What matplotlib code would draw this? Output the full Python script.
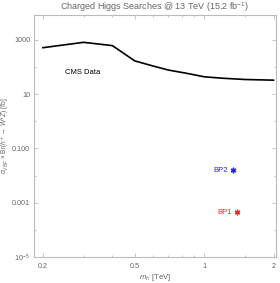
import numpy as np
import matplotlib.pyplot as plt
from matplotlib.ticker import FixedLocator, NullFormatter

plt.rcParams['font.family'] = ['Liberation Sans', 'DejaVu Sans']
plt.rcParams['mathtext.fontset'] = 'custom'
plt.rcParams['mathtext.rm'] = 'Liberation Sans'
plt.rcParams['mathtext.it'] = 'Liberation Sans:italic'

# CMS observed limit
cms_mass = [0.2, 0.3, 0.4, 0.5, 0.6, 0.7, 0.85, 1.0, 1.2, 1.5, 2.0]
cms_xsec = [520, 820, 620, 170, 110, 78, 58, 44, 39, 35, 33]

# benchmark points
bp_names = ["BP1", "BP2"]
bp_mass = [1.39, 1.33]
bp_xsec = [4.5e-4, 1.6e-2]
bp_colors = ["#f22222", "#2222ee"]

ytick_vals = [1e3, 1e1, 1e-1, 1e-3, 1e-5]
ytick_labels = ["1000", "10", "0.100", "0.001", r"$10^{-5}$"]
xtick_vals = [0.2, 0.5, 1, 2]
xtick_labels = ["0.2", "0.5", "1", "2"]

gray = "#666666"
frame = "#bbbbbb"

fig = plt.figure(figsize=(2.8, 2.83), dpi=100)
ax = fig.add_axes([33.5/280, 1-257/283, (276-33.5)/280, (257-14.5)/283])

ax.plot(cms_mass, cms_xsec, color="black", lw=1.2)
ax.text(0.25, 62, "CMS Data", fontsize=5.5, color="black", va="center")

for name, m, s, c in zip(bp_names, bp_mass, bp_xsec, bp_colors):
    ax.plot(m, s, marker=(6, 2, 0), color=c, ms=4, mew=1.0, ls="none")
    ax.text(m*0.95, s, name, color=c, fontsize=5.5, ha="right", va="center")

ax.set_xscale("log")
ax.set_yscale("log")
ax.set_xlim(0.182, 2.05)
ax.set_ylim(1e-5, 8.7e3)

ax.yaxis.set_major_locator(FixedLocator(ytick_vals))
ax.set_yticklabels(ytick_labels)
ax.yaxis.set_minor_locator(FixedLocator([1e2, 1e0, 1e-2, 1e-4]))
ax.yaxis.set_minor_formatter(NullFormatter())
ax.xaxis.set_major_locator(FixedLocator(xtick_vals))
ax.set_xticklabels(xtick_labels)
ax.xaxis.set_minor_locator(FixedLocator([0.3, 0.4, 0.6, 0.7, 0.8, 0.9, 1.5]))
ax.xaxis.set_minor_formatter(NullFormatter())

for sp in ax.spines.values():
    sp.set_color(frame)
    sp.set_linewidth(0.8)
ax.tick_params(which="both", direction="in", colors=frame, labelcolor=gray,
               labelsize=5.2, top=True, right=True, width=0.6)
ax.tick_params(which="major", length=3)
ax.tick_params(which="minor", length=1.5)
ax.tick_params(axis="x", pad=4)
ax.tick_params(axis="y", pad=2.5)

ax.set_title(r"Charged Higgs Searches @ 13 TeV (15.2 fb$^{-1}$)",
             fontsize=6.5, color=gray, pad=3)
ax.set_xlabel(r"$m_{h'}$ [TeV]", fontsize=5.5, color=gray, labelpad=2)
ax.set_ylabel(r"$\sigma_{VBF}$ × Br($h'^{+}$ → $W^{+}Z$) [fb]",
              fontsize=4.8, color=gray)
ax.yaxis.set_label_coords(-0.09, 0.5)

fig.savefig("out.png", dpi=100)
